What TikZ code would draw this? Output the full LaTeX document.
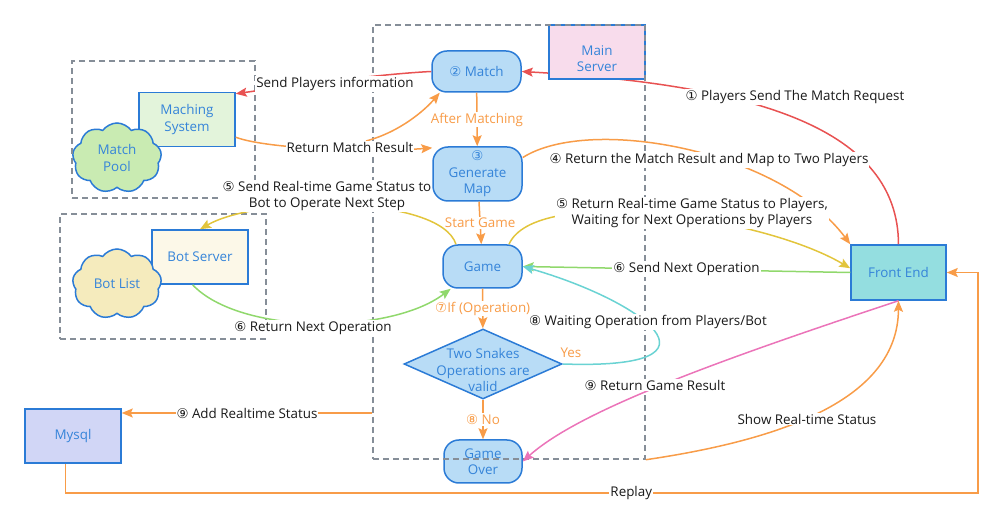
\documentclass[tikz,border=0pt]{standalone}
\usepackage{fontspec}
\setmainfont{Open Sans}
\newfontfamily\circfont{DejaVu Sans}
\usetikzlibrary{arrows.meta,shapes.geometric,shapes.symbols,positioning}

\definecolor{nodeblue}{HTML}{2B7BD6}
\definecolor{nodetext}{HTML}{3584D9}
\definecolor{procfill}{HTML}{B8DCF6}
\definecolor{pinkfill}{HTML}{F8DCEC}
\definecolor{tealfill}{HTML}{94DEE0}
\definecolor{lilacfill}{HTML}{D1D6F6}
\definecolor{mintfill}{HTML}{E3F4DB}
\definecolor{poolfill}{HTML}{C9EBB2}
\definecolor{creamfill}{HTML}{FCF8E8}
\definecolor{sandfill}{HTML}{F5EBBD}
\definecolor{grpgray}{HTML}{868E98}
\definecolor{lineorange}{HTML}{F89C48}
\definecolor{linered}{HTML}{E85252}
\definecolor{linegreen}{HTML}{90D86C}
\definecolor{lineyellow}{HTML}{E2C53C}
\definecolor{linecyan}{HTML}{6AD3D3}
\definecolor{linepink}{HTML}{EB74B9}
\definecolor{labeltext}{HTML}{1A1A1A}

% circled step numbers
\newcommand{\cn}[1]{{\circfont #1}}
% text set a bit below the middle of its box
\newcommand{\lowtext}[1]{\raisebox{-8pt}[\height][\depth]{\begin{tabular}{@{}c@{}}#1\end{tabular}}}

\tikzset{
    procbox/.style={
           rectangle,
           rounded corners=15pt,
           draw=nodeblue, line width=1.5pt,
           fill=procfill, text=nodetext,
           align=center, inner sep=0pt,
           },
    srvbox/.style={
           rectangle,
           draw=nodeblue, line width=1.5pt,
           text=nodetext, align=center,
           minimum width=96pt, minimum height=54pt,
           inner sep=0pt,
           },
    cloudbox/.style={
           cloud, cloud puffs=9, cloud puff arc=110, aspect=1.25,
           draw=nodeblue, line width=1.5pt,
           text=nodetext, align=center,
           minimum width=89pt, minimum height=70pt,
           inner sep=0pt,
           },
    grpbox/.style={
           rectangle,
           draw=grpgray, line width=1.5pt,
           dash pattern=on 6pt off 4pt,
           },
    lbl/.style={fill=white, text=labeltext, inner sep=1pt, align=center},
    flowlbl/.style={fill=white, text=lineorange, inner sep=1pt},
    flow/.style={->, line width=1.5pt},
}

\begin{document}
\begin{tikzpicture}[x=1pt, y=-1pt, >={Stealth[length=11pt,width=9pt,inset=2pt]},
  font=\fontsize{13.4}{16.5}\selectfont]
 \useasboundingbox (0,0) rectangle (1002,518);

 % flow inside the main server
 \node[procbox, minimum width=89pt, minimum height=41pt] (match) at (476.5,71.5) {\cn{②} Match};
 \node[procbox, minimum width=89pt, minimum height=54pt] (gmap) at (477.5,174) {\cn{③}\\Generate\\Map};
 \node[procbox, minimum width=79pt, minimum height=43pt] (game) at (482.5,266.5) {Game};
 \node[diamond, aspect=2.2,
  draw=nodeblue, line width=1.5pt, fill=procfill, text=nodetext,
  inner sep=-10pt,
  minimum width=158pt, minimum height=70pt] (valid) at (483,364)
  {\lowtext{Two Snakes\\Operations are\\valid}};
 \node[procbox, minimum width=78pt, minimum height=43pt] (gover) at (483,461.5) {Game\\Over};

 % front end, database, matching and bots
 \node[srvbox, fill=tealfill, minimum width=95pt, minimum height=55pt] (fe) at (898.5,272.5) {Front End};
 \node[srvbox, fill=lilacfill] (mysql) at (73,436) {Mysql};
 \node[srvbox, fill=mintfill] (msys) at (187,119.5) {Maching\\System};
 \node[cloudbox, fill=poolfill] (mpool) at (117,158) {Match\\Pool};
 \node[srvbox, fill=creamfill] (bsrv) at (200,257) {Bot Server};
 \node[cloudbox, fill=sandfill] (blist) at (117,284) {Bot List};

 % the request runs behind the main server box
 \draw[flow, linered] (fe.north) .. controls (898,130) and (760,85) .. (match.east)
  node[lbl] at (795,97) {\cn{①} Players Send The Match Request};
 \node[srvbox, fill=pinkfill] (mainsrv) at (597,52) {\lowtext{Main\\Server}};

 % dashed groups
 \node[grpbox, minimum width=272pt, minimum height=434pt] (srvgrp) at (509,242) {};
 \node[grpbox, minimum width=183pt, minimum height=137pt] (poolgrp) at (163.5,129.5) {};
 \node[grpbox, minimum width=206pt, minimum height=125pt] (botgrp) at (163,276.5) {};

 % main flow
 \draw[flow, lineorange] (match) -- node[flowlbl] {After Matching} (gmap);
 \draw[flow, lineorange] (gmap) -- node[flowlbl] {Start Game} (game);
 \draw[flow, lineorange] (game) -- node[flowlbl] {\cn{⑦}If (Operation)} (valid);
 \draw[flow, lineorange] (valid) -- node[flowlbl] {\cn{⑧} No} (gover);

 % matching
 \draw[flow, linered] (match.west) .. controls (380,74) and (290,86) .. ([yshift=-2pt]msys.north east)
  node[lbl] at (335,84) {Send Players information};
 \coordinate (mbranch) at (366,141);
 \draw[flow, lineorange] (mbranch) .. controls (400,132) and (425,110) .. (match.-150);
 \draw[flow, lineorange] (msys.-20) .. controls (270,150) and (380,152) .. (gmap.150)
  node[lbl] at (350,147) {Return Match Result};

 % game round
 \draw[flow, lineorange] (gmap.20) .. controls (590,115) and (780,150) .. (fe.north west)
  node[lbl] at (709,160) {\cn{④} Return the Match Result and Map to Two Players};
 \draw[flow, lineyellow] (game.40) .. controls (535,185) and (760,215) .. (fe.175)
  node[lbl] at (692,213) {\cn{⑤} Return Real-time Game Status to Players,\\Waiting for Next Operations by Players};
 \draw[flow, lineyellow] (game.140) .. controls (440,195) and (260,195) .. (bsrv.north)
  node[lbl] at (327,196) {\cn{⑤} Send Real-time Game Status to\\Bot to Operate Next Step};
 \draw[flow, linegreen] (fe.west) -- node[lbl] {\cn{⑥} Send Next Operation} (game.east);
 \draw[flow, linegreen] (bsrv.-105) .. controls (240,335) and (390,335) .. (game.-145)
  node[lbl] at (313,328) {\cn{⑥} Return Next Operation};
 \draw[flow, linecyan] (valid.east) .. controls (740,370) and (640,300) .. (game.east)
  node[lbl] at (648,322) {\cn{⑧} Waiting Operation from Players/Bot}
  node[flowlbl] at (571,353) {Yes};
 \draw[flow, linepink] (fe.south) .. controls (720,360) and (580,410) .. (gover.east)
  node[lbl] at (655,385) {\cn{⑨} Return Game Result};
 \draw[flow, lineorange] (srvgrp.south east) .. controls (780,440) and (898,400) .. (fe.south)
  node[lbl] at (807,419) {Show Real-time Status};

 % storage and replay
 \coordinate (addy) at (0,413);
 \draw[flow, lineorange] (srvgrp.west |- addy) -- node[lbl] {\cn{⑨} Add Realtime Status} (mysql.east |- addy);
 \coordinate (rply) at (978,493);
 \draw[flow, lineorange] (mysql.-105) |- node[lbl, pos=0.81] {Replay} (rply) |- (fe.east);

\end{tikzpicture}
\end{document}
